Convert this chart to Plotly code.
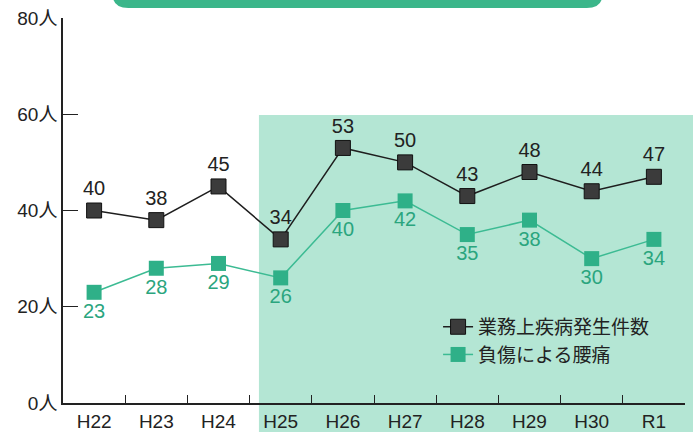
import plotly.graph_objects as go

years = ["H22", "H23", "H24", "H25", "H26", "H27", "H28", "H29", "H30", "R1"]
occupational = [40, 38, 45, 34, 53, 50, 43, 48, 44, 47]
back_pain = [23, 28, 29, 26, 40, 42, 35, 38, 30, 34]
y_ticks = [0, 20, 40, 60, 80]
y_labels = ["0人", "20人", "40人", "60人", "80人"]
name_occ = "業務上疾病発生件数"
name_back = "負傷による腰痛"

FONT = "Liberation Sans, Arial, Noto Sans CJK JP, sans-serif"
GREEN = "#2fb088"

fig = go.Figure()
fig.add_trace(go.Scatter(
    x=years, y=occupational, name=name_occ, mode="lines+markers+text",
    line=dict(color="#1e1e1e", width=1.5),
    marker=dict(symbol="square", size=15, color="#3b3b3b", line=dict(color="#111", width=1)),
    text=[str(v) for v in occupational], textposition="top center",
    textfont=dict(family=FONT, size=20, color="#222", weight=400),
))
fig.add_trace(go.Scatter(
    x=years, y=back_pain, name=name_back, mode="lines+markers+text",
    line=dict(color="#3cbb93", width=1.5),
    marker=dict(symbol="square", size=15, color=GREEN, line=dict(color=GREEN, width=0)),
    text=[str(v) for v in back_pain], textposition="bottom center",
    textfont=dict(family=FONT, size=20, color="#2aa57e", weight=400),
))

# shaded region
fig.add_shape(type="rect", xref="paper", yref="paper", x0=0.315, x1=1.02, y0=-0.1, y1=0.748,
              fillcolor="#b4e6d4", line=dict(width=0), layer="below")
# banner at the top (cut off)
fig.add_shape(type="path", xref="paper", yref="paper",
              path="M 0.080 1.2 L 0.080 1.06 Q 0.080 1.026 0.105 1.026 L 0.842 1.026 Q 0.867 1.026 0.867 1.06 L 0.867 1.2 Z",
              fillcolor="#3bb68a", line=dict(width=0), layer="above")

fig.update_layout(
    width=693, height=432,
    margin=dict(l=63, r=8, t=18, b=29, autoexpand=False),
    paper_bgcolor="white", plot_bgcolor="rgba(0,0,0,0)",
    font=dict(family=FONT, size=18, color="#222"),
    showlegend=True,
    legend=dict(x=0.603, y=0.247, xanchor="left", yanchor="top", bgcolor="rgba(0,0,0,0)",
                font=dict(family="Noto Sans CJK JP", size=19, color="#222"),
                tracegroupgap=0, itemwidth=30),
    xaxis=dict(type="category", range=[-0.5, 9.5], tickson="boundaries", ticks="inside",
               ticklen=8, tickcolor="#222", showline=True, linecolor="#222", linewidth=1.5,
               showgrid=False, zeroline=False, automargin=False,
               tickfont=dict(family=FONT, size=19, color="#222", weight=400)),
    yaxis=dict(range=[0, 80], tickvals=y_ticks, ticktext=y_labels, ticks="inside", ticklen=15,
               tickcolor="#222", showline=True, linecolor="#222", linewidth=1.5,
               showgrid=False, zeroline=False, automargin=False,
               tickfont=dict(family=FONT, size=19, color="#222", weight=400)),
)

fig.write_html("out.html", config={"displayModeBar": False},
               post_script="document.body.style.margin='0px';document.body.style.overflow='hidden';")
